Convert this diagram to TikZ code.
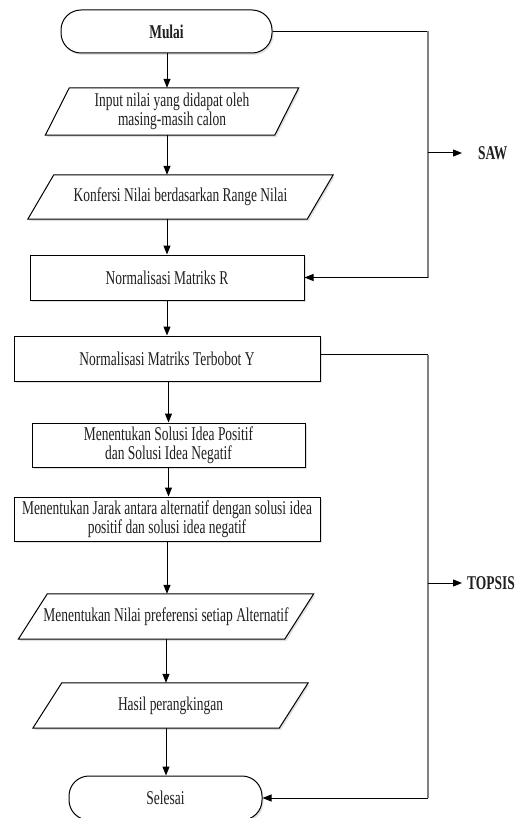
\documentclass[tikz,border=0pt]{standalone}
\usepackage{fontspec}
\setmainfont{Liberation Serif}[FakeStretch=0.69]
\usetikzlibrary{arrows.meta,shadows,backgrounds}
\begin{document}
\begin{tikzpicture}[x=1pt,y=-1pt,
  every node/.style={inner sep=0pt, align=center, font=\fontsize{19.5}{19}\selectfont, text=black!88},
  shad/.style={drop shadow={shadow xshift=1.5pt, shadow yshift=-2pt, fill=black, opacity=0.12}},
  procbox/.style={draw, line width=1pt, fill=white, shad},
  termbox/.style={draw, line width=1pt, fill=white, rounded corners=20pt, shad},
  ioline/.style={draw, line width=1pt, fill=white, shad},
  arr/.style={line width=1pt, -{Triangle[length=9pt,width=7pt]}},
  hline/.style={line width=1pt},
  side/.style={line width=1.4pt, draw=black!50},
  lbl/.style={anchor=west, font=\bfseries\fontsize{19.5}{19}\selectfont},
]
\useasboundingbox (0,0) rectangle (523,818);
\clip (0,0) rectangle (523,818);

% nodes
\node[termbox, minimum width=211pt, minimum height=43pt, font=\bfseries\fontsize{19.5}{19}\selectfont] (mulai) at (166.5,31.5) {Mulai};
\node[minimum width=229pt, minimum height=47pt] (input) at (172,111.5) {Input nilai yang didapat oleh\\masing-masih calon};
\node[minimum width=279pt, minimum height=44pt] (konf) at (180.5,197) {Konfersi Nilai berdasarkan Range Nilai};
\node[procbox, minimum width=274pt, minimum height=45pt] (R) at (167,277.5) {Normalisasi Matriks R};
\node[procbox, minimum width=306pt, minimum height=45pt] (Y) at (167,358.5) {Normalisasi Matriks Terbobot Y};
\node[procbox, minimum width=273pt, minimum height=44pt] (sol) at (168.5,445) {Menentukan Solusi Idea Positif\\dan Solusi Idea Negatif};
\node[procbox, minimum width=306pt, minimum height=44pt] (jarak) at (167,519) {Menentukan Jarak antara alternatif dengan solusi idea\\positif dan solusi idea negatif};
\node[minimum width=266pt, minimum height=45pt] (pref) at (166,616.5) {Menentukan Nilai preferensi setiap Alternatif};
\node[minimum width=246pt, minimum height=45pt] (hasil) at (170.5,705.5) {Hasil perangkingan};
\node[termbox, minimum width=193pt, minimum height=44pt] (selesai) at (165.5,798) {Selesai};

\node[lbl] (saw) at (478,153) {SAW};
\node[lbl] (topsis) at (467,583) {TOPSIS};

% parallelogram outlines
\begin{scope}[on background layer]
\foreach \n/\s in {input/12, konf/13, pref/14.5, hasil/14.5}{
  \draw[ioline] ([xshift=\s pt]\n.north west) -- ([xshift=\s pt]\n.north east)
     -- ([xshift=-\s pt]\n.south east) -- ([xshift=-\s pt]\n.south west) -- cycle;
}
\end{scope}

% main flow
\draw[arr] (mulai.south -| R.center) -- (input.north -| R.center);
\draw[arr] (input.south -| R.center) -- (konf.north -| R.center);
\draw[arr] (konf.south -| R.center) -- (R.north);
\draw[arr] (R.south) -- (Y.north);
\draw[arr] (Y.south -| sol.center) -- (sol.north);
\draw[arr] (sol.south) -- (jarak.north -| sol.center);
\draw[arr] (jarak.south -| R.center) -- (pref.north -| R.center);
\draw[arr] (pref.south) -- (hasil.north -| pref.center);
\draw[arr] (hasil.south -| pref.center) -- (selesai.north -| pref.center);

% right side connectors
\coordinate (rx) at (428,0);
\draw[hline] (mulai.east) -- (mulai.east -| rx);
\draw[side] (mulai.east -| rx) -- (R.east -| rx);
\draw[arr] (R.east -| rx) -- (R.east);
\draw[arr] (saw.west -| rx) -- ([xshift=-16pt]saw.west);

\draw[hline] ([yshift=4pt]Y.east) -- ([yshift=4pt]Y.east -| rx);
\draw[side] ([yshift=4pt]Y.east -| rx) -- (selesai.east -| rx);
\draw[arr] (selesai.east -| rx) -- (selesai.east);
\draw[arr] (topsis.west -| rx) -- ([xshift=-5pt]topsis.west);
\end{tikzpicture}
\end{document}
